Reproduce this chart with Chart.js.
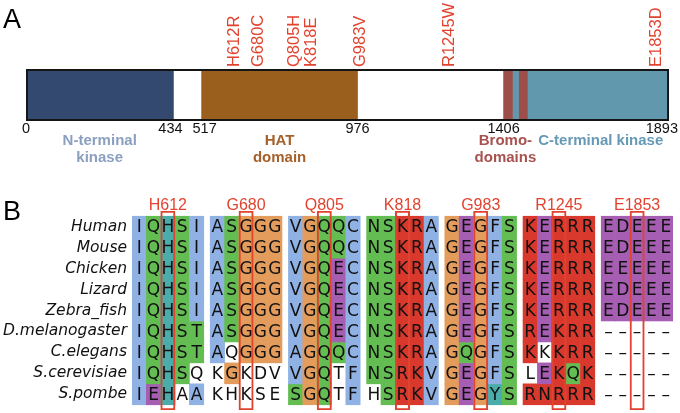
<!DOCTYPE html>
<html>
<head>
<meta charset="utf-8">
<title>KAT2A domains and conservation of mutated residues</title>
<script src="https://cdn.jsdelivr.net/npm/chart.js@4.4.1/dist/chart.umd.min.js"></script>
<style>
  body { margin: 0; background: #fff; }
  #wrap { position: relative; width: 680px; height: 413px; }
  canvas { position: absolute; left: 0; }
  #domainChart { top: 0; }
  #alignChart { top: 188px; }
</style>
</head>
<body>
<div id="wrap">
  <canvas id="domainChart" width="680" height="188"></canvas>
  <canvas id="alignChart" width="680" height="225"></canvas>
</div>
<script>
// Panel A: domain map of the protein
const proteinLength = 1893;
const domainNames = ['N-terminal kinase', 'HAT domain', 'Bromo-domains', 'C-terminal kinase', 'Bromo-domains', 'C-terminal kinase'];
const domainStart = [0, 517, 1406, 1432, 1450, 1476];
const domainEnd = [434, 976, 1432, 1450, 1476, 1893];
const positionTicks = [0, 434, 517, 976, 1406, 1893];

// Mutations (shared by both panels)
const mutationPos = [612, 680, 805, 818, 983, 1245, 1853];
const mutationFrom = ['H', 'G', 'Q', 'K', 'G', 'R', 'E'];
const mutationTo = ['R', 'C', 'H', 'E', 'V', 'W', 'D'];

// Panel B: alignment around each mutated site (one 5-residue block per site)
const species = ['Human', 'Mouse', 'Chicken', 'Lizard', 'Zebra_fish', 'D.melanogaster', 'C.elegans', 'S.cerevisiae', 'S.pombe'];
const residues = [
    'IQHSI ASGGG VGQQC NSKRA GEGFS KERRR EDEEE',
    'IQHSI ASGGG VGQQC NSKRA GEGFS KERRR EDEEE',
    'IQHSI ASGGG VGQEC NSKRA GEGFS KERRR EEEEE',
    'IQHSI ASGGG VGQEC NSKRA GEGFS KERRR EDEEE',
    'IQHSI ASGGG VGQEC NSKRA GEGFS KERRR EDEEE',
    'IQHST ASGGG VGQEC NSKRA GEGFS REKRR -----',
    'IQHST AQGGG AGQQC NSKRA GQGFS KKKRR -----',
    'IQHSQ KGKDV VGQTF NSRKV GEGFS LEKQK -----',
    'IEHAA KHKSE SGQTF HSRKV GEGYS RNRRR -----'
];
// ClustalX colour class of each cell: b blue, g green, o orange, r red, p purple, t teal, . none
const shading = [
    'bgtgb bgooo boggb ggrrb opobg rprrr ppppp',
    'bgtgb bgooo boggb ggrrb opobg rprrr ppppp',
    'bgtgb bgooo bogpb ggrrb opobg rprrr ppppp',
    'bgtgb bgooo bogpb ggrrb opobg rprrr ppppp',
    'bgtgb bgooo bogpb ggrrb opobg rprrr ppppp',
    'bgtgg bgooo bogpb ggrrb opobg rprrr .....',
    'bgtgg b.ooo boggb ggrrb ogobg r.rrr .....',
    'bgtg. .o... bog.b ggrrb opobg .prgr .....',
    'bpt.b ..... gog.b .grrb opotg rrrrr .....'
];
const siteColumn = 2;   // the mutated residue sits in the middle of each block

// Styles
const SANS = '"Liberation Sans", Arial, sans-serif';
const SEQ_FONT = '"DejaVu Sans", sans-serif';
const mutationRed = '#e2432f';
const blockSize = 5;
const blockGap = 0.45;
const shadeColors = { b: '#8fb1e4', g: '#64bd52', o: '#e39c5c', r: '#d9392c', p: '#a65eb3', t: '#4aacab', '.': 'rgba(255,255,255,0)' };
const domainFill = { 'N-terminal kinase': '#34496f', 'HAT domain': '#9b5f1d', 'Bromo-domains': '#9d4e48', 'C-terminal kinase': '#6298ae' };
const domainInk = { 'N-terminal kinase': '#8b9fc1', 'HAT domain': '#a6612a', 'Bromo-domains': '#a8524f', 'C-terminal kinase': '#6599b5' };
const domainLines = {
    'N-terminal kinase': ['N-terminal', 'kinase'],
    'HAT domain': ['HAT', 'domain'],
    'Bromo-domains': ['Bromo-', 'domains'],
    'C-terminal kinase': ['C-terminal kinase']
};


// Push overlapping labels (sorted by x, with width w) apart
function spreadLabels(items, minGap) {
    for (let pass = 0; pass < 20; pass++) {
        let moved = false;
        for (let i = 1; i < items.length; i++) {
            const a = items[i - 1], b = items[i];
            const need = (a.w + b.w) / 2 + minGap - (b.x - a.x);
            if (need > 0.01) {
                a.x -= need / 2;
                b.x += need / 2;
                moved = true;
            }
        }
        if (!moved) break;
    }
}


const domainTextPlugin = {
    id: 'domainText',
    afterDatasetsDraw(chart) {
        const { ctx, chartArea, scales: { x } } = chart;
        ctx.save();

        // Panel letter
        ctx.fillStyle = '#000';
        ctx.font = '27px ' + SANS;
        ctx.textAlign = 'left';
        ctx.textBaseline = 'alphabetic';
        ctx.fillText('A', 3, 28);

        // Mutation names, rotated, standing on the bar
        ctx.font = '16.5px ' + SANS;
        ctx.fillStyle = mutationRed;
        ctx.textBaseline = 'middle';
        const muts = mutationPos.map((p, i) => ({
            x: x.getPixelForValue(p), w: 12, text: mutationFrom[i] + p + mutationTo[i]
        }));
        spreadLabels(muts, 5);
        muts.forEach(m => {
            ctx.save();
            ctx.translate(m.x, chartArea.top - 2);
            ctx.rotate(-Math.PI / 2);
            ctx.fillText(m.text, 0, 1);
            ctx.restore();
        });

        // Residue numbers under the bar
        ctx.font = '14.5px ' + SANS;
        ctx.fillStyle = '#111';
        ctx.textAlign = 'center';
        ctx.textBaseline = 'top';
        const nums = positionTicks.map(v => ({
            x: x.getPixelForValue(v), w: ctx.measureText(String(v)).width, text: String(v)
        }));
        spreadLabels(nums, 10);
        nums.forEach(n => {
            const px = Math.max(n.w / 2 + 1, Math.min(chart.width - n.w / 2 - 2, n.x));
            ctx.fillText(n.text, px, chartArea.bottom + 1);
        });

        // Domain names, centred on the longest segment of each domain
        ctx.font = 'bold 15px ' + SANS;
        const names = [...new Set(domainNames)];
        const labels = names.map(name => {
            let best = -1, len = -1;
            domainNames.forEach((n, i) => {
                if (n === name && domainEnd[i] - domainStart[i] > len) {
                    len = domainEnd[i] - domainStart[i];
                    best = i;
                }
            });
            const lines = domainLines[name];
            return {
                name, lines,
                x: x.getPixelForValue((domainStart[best] + domainEnd[best]) / 2),
                w: Math.max(...lines.map(l => ctx.measureText(l).width))
            };
        }).sort((a, b) => a.x - b.x);
        spreadLabels(labels, 2);
        ctx.textBaseline = 'middle';
        labels.forEach(l => {
            ctx.fillStyle = domainInk[l.name];
            l.lines.forEach((line, k) => ctx.fillText(line, l.x, chartArea.bottom + 20 + k * 17));
        });

        ctx.restore();
    }
};


const residuePlugin = {
    id: 'residueText',
    afterDatasetsDraw(chart) {
        const { ctx, chartArea } = chart;
        ctx.save();

        ctx.fillStyle = '#000';
        ctx.font = '27px ' + SANS;
        ctx.textAlign = 'left';
        ctx.textBaseline = 'alphabetic';
        ctx.fillText('B', 3, 32);

        // One-letter residues in every cell
        ctx.font = '17px ' + SEQ_FONT;
        ctx.fillStyle = '#111';
        ctx.textAlign = 'center';
        ctx.textBaseline = 'middle';
        chart.data.datasets.forEach((ds, i) => {
            if (!ds.residues) return;
            chart.getDatasetMeta(i).data.forEach((bar, k) => {
                const ch = ds.residues[k] === '-' ? '\u2013' : ds.residues[k];
                ctx.fillText(ch, bar.x, (bar.y + bar.base) / 2 + 1);
            });
        });

        // Site names above the red boxes
        const boxIndex = chart.data.datasets.findIndex(ds => ds.siteBoxes);
        ctx.font = '16px ' + SANS;
        ctx.fillStyle = mutationRed;
        ctx.textBaseline = 'alphabetic';
        chart.getDatasetMeta(boxIndex).data.forEach((bar, b) => {
            ctx.fillText(mutationFrom[b] + mutationPos[b], bar.x, chartArea.top - 1);
        });

        ctx.restore();
    }
};


function renderDomainChart() {
    const canvas = document.getElementById('domainChart');
    const datasets = domainNames.map((name, i) => ({
        label: name,
        data: [[domainStart[i], domainEnd[i]]],
        backgroundColor: domainFill[name],
        borderWidth: 0
    }));
    // Outline of the full-length protein, drawn on top
    datasets.push({
        label: 'KAT2A',
        data: [[0, proteinLength]],
        backgroundColor: 'rgba(0,0,0,0)',
        borderColor: '#151515',
        borderWidth: 1.6,
        borderSkipped: false,
        order: -1
    });

    new Chart(canvas, {
        type: 'bar',
        data: { labels: ['KAT2A'], datasets },
        options: {
            indexAxis: 'y',
            responsive: false,
            animation: false,
            layout: { padding: { top: 69, bottom: 67, left: 26, right: 11 } },
            datasets: { bar: { grouped: false, barPercentage: 1, categoryPercentage: 1 } },
            scales: {
                x: { type: 'linear', min: 0, max: proteinLength, display: false },
                y: { display: false }
            },
            plugins: { legend: { display: false }, tooltip: { enabled: false } }
        },
        plugins: [domainTextPlugin]
    });
}


function renderAlignmentChart() {
    const canvas = document.getElementById('alignChart');
    const colX = (b, c) => b * (blockSize + blockGap) + c;

    const datasets = species.map((name, r) => {
        const blocks = residues[r].split(' ');
        const shades = shading[r].split(' ');
        const data = [], colors = [], chars = [];
        blocks.forEach((block, b) => {
            [...block].forEach((ch, c) => {
                data.push({ x: colX(b, c), y: [r, r + 1] });
                colors.push(shadeColors[shades[b][c]]);
                chars.push(ch);
            });
        });
        return { label: name, data, residues: chars, backgroundColor: colors, borderWidth: 0 };
    });

    // Red boxes around the mutated column of each block
    datasets.push({
        label: 'mutated residue',
        siteBoxes: true,
        data: mutationPos.map((_, b) => ({ x: colX(b, siteColumn), y: [-0.25, species.length + 0.25] })),
        backgroundColor: 'rgba(0,0,0,0)',
        borderColor: mutationRed,
        borderWidth: 1.4,
        borderSkipped: false,
        order: -1
    });

    new Chart(canvas, {
        type: 'bar',
        data: { datasets },
        options: {
            responsive: false,
            animation: false,
            layout: { padding: { top: 23, bottom: 3, left: 0, right: 7 } },
            datasets: { bar: { grouped: false, barPercentage: 1, categoryPercentage: 1 } },
            scales: {
                x: {
                    type: 'linear',
                    offset: false,
                    min: -0.5,
                    max: colX(mutationPos.length - 1, blockSize - 1) + 0.5,
                    display: false,
                    ticks: { stepSize: 10 }
                },
                y: {
                    type: 'linear',
                    reverse: true,
                    min: -0.25,
                    max: species.length + 0.25,
                    grid: { display: false, drawTicks: false },
                    border: { display: false },
                    afterBuildTicks: scale => { scale.ticks = species.map((_, i) => ({ value: i + 0.5 })); },
                    afterFit: scale => {
                        scale.width = 132;
                        scale.paddingTop = 0;
                        scale.paddingBottom = 0;
                    },
                    ticks: {
                        autoSkip: false,
                        padding: 5,
                        color: '#111',
                        font: { family: 'DejaVu Sans', size: 15.5, style: 'italic' },
                        callback: (value, index) => species[index]
                    }
                }
            },
            plugins: { legend: { display: false }, tooltip: { enabled: false } }
        },
        plugins: [residuePlugin]
    });
}


try {
    renderDomainChart();
    renderAlignmentChart();
} catch (error) {
    console.error('Error rendering figure:', error);
}
</script>
</body>
</html>
